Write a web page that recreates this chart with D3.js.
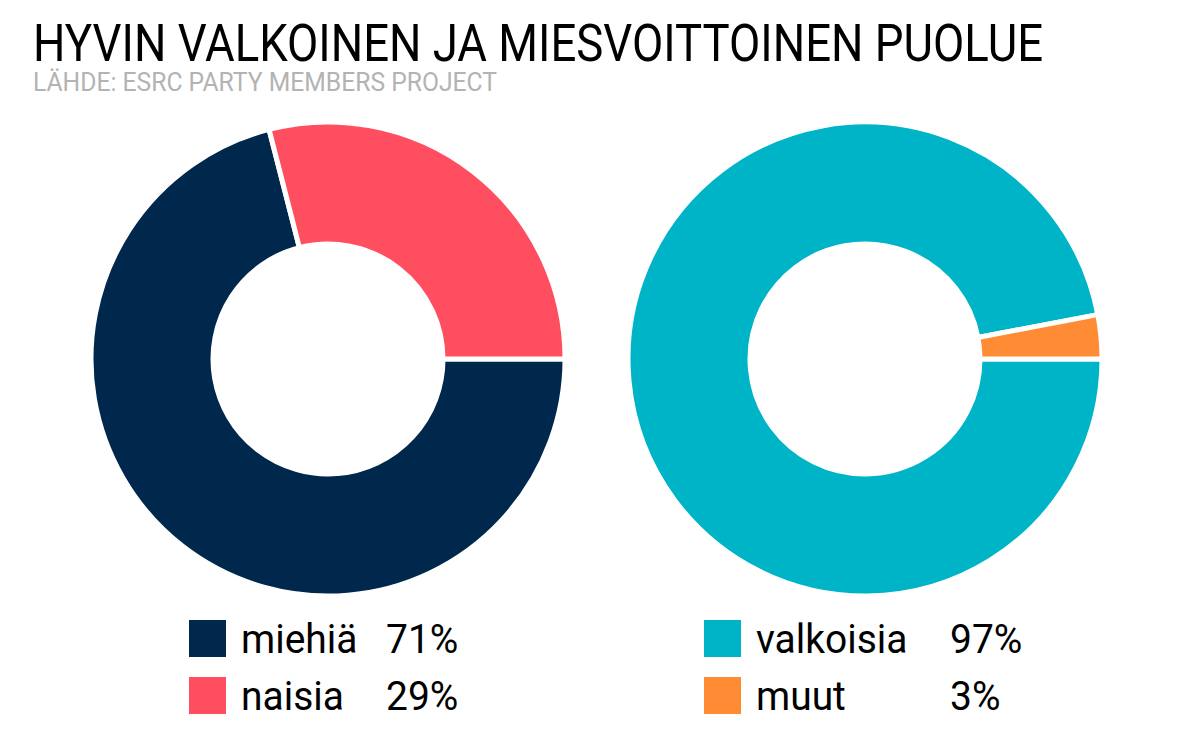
<!DOCTYPE html>
<html>
<head>
<meta charset="utf-8">
<title>Hyvin valkoinen ja miesvoittoinen puolue</title>
<script src="https://cdn.jsdelivr.net/npm/d3@7"></script>
<style>
  body { margin: 0; background: #fff; }
  text { font-family: Roboto, "Open Sans", sans-serif; }
</style>
</head>
<body>
<div id="chart"></div>
<script>
// data
var genderLabels = ["miehiä", "naisia"];
var genderValues = [71, 29];
var raceLabels = ["valkoisia", "muut"];
var raceValues = [97, 3];
var genderColors = ["#00284d", "#ff4e5f"];
var raceColors = ["#00b4c8", "#ff8c35"];

var W = 1199, H = 736;
var svg = d3.select("#chart").append("svg")
  .attr("width", W).attr("height", H);

// condensed look: squeeze the text horizontally
function condense(sel, k) {
  sel.each(function() {
    var len = this.getComputedTextLength();
    d3.select(this).attr("textLength", len * k).attr("lengthAdjust", "spacingAndGlyphs");
  });
}

svg.append("text")
  .attr("x", 33).attr("y", 61)
  .attr("font-size", 51)
  .attr("fill", "#000")
  .attr("textLength", 1010).attr("lengthAdjust", "spacingAndGlyphs")
  .text("HYVIN VALKOINEN JA MIESVOITTOINEN PUOLUE");

svg.append("text")
  .attr("x", 33).attr("y", 91)
  .attr("font-size", 26)
  .attr("fill", "#b3b3b3")
  .attr("textLength", 464).attr("lengthAdjust", "spacingAndGlyphs")
  .text("LÄHDE: ESRC PARTY MEMBERS PROJECT");

var pie = d3.pie().sort(null)
  .startAngle(Math.PI / 2)
  .endAngle(Math.PI / 2 + 2 * Math.PI);
var arc = d3.arc().innerRadius(115).outerRadius(237);

function donut(cx, cy, values, colors) {
  var g = svg.append("g").attr("transform", "translate(" + cx + "," + cy + ")");
  g.selectAll("path")
    .data(pie(values))
    .enter().append("path")
    .attr("d", arc)
    .attr("fill", function(d, i) { return colors[i]; })
    .attr("stroke", "#fff")
    .attr("stroke-width", 5);
}

function legend(x, y, pctX, labels, values, colors) {
  var g = svg.append("g").attr("transform", "translate(" + x + "," + y + ")");
  var rows = g.selectAll("g.row")
    .data(labels)
    .enter().append("g").attr("class", "row")
    .attr("transform", function(d, i) { return "translate(0," + (i * 57) + ")"; });
  rows.append("rect")
    .attr("width", 37).attr("height", 37)
    .attr("fill", function(d, i) { return colors[i]; });
  var lab = rows.append("text")
    .attr("x", 52).attr("y", 33)
    .attr("font-size", 41)
    .attr("fill", "#000")
    .text(function(d) { return d; });
  condense(lab, 0.95);
  var pct = rows.append("text")
    .attr("x", pctX).attr("y", 33)
    .attr("font-size", 41)
    .attr("fill", "#000")
    .text(function(d, i) { return values[i] + "%"; });
  condense(pct, 0.95);
}

donut(328, 359, genderValues, genderColors);
donut(865, 359, raceValues, raceColors);
legend(189, 620, 197, genderLabels, genderValues, genderColors);
legend(704, 620, 246, raceLabels, raceValues, raceColors);
</script>
</body>
</html>
